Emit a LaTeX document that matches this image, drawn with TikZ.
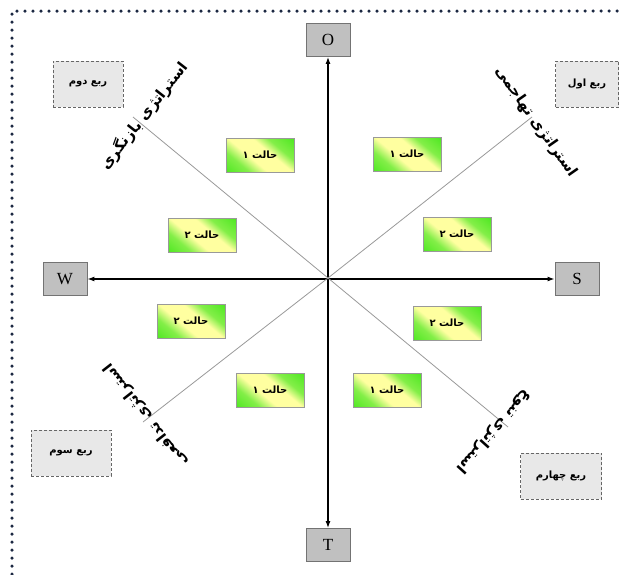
\documentclass[tikz,border=0pt]{standalone}
\usepackage{fontspec}
\newfontfamily\arabicfont[Script=Arabic]{DejaVu Sans}
\newfontfamily\timesfont{Liberation Serif}
\TeXXeTstate=1
\usetikzlibrary{arrows.meta}
\definecolor{axisgray}{RGB}{192,192,192}
\definecolor{framedot}{RGB}{28,40,66}
\definecolor{stgreen}{RGB}{30,225,0}
\definecolor{stpale}{RGB}{255,255,160}
\pgfdeclareverticalshading{stateshade}{100bp}{color(0bp)=(stgreen); color(30bp)=(stgreen!55!stpale); color(42bp)=(stpale); color(58bp)=(stpale); color(68bp)=(stgreen!55!stpale); color(100bp)=(stgreen)}
\begin{document}
\begin{tikzpicture}[x=1pt, y=-1pt, >={Latex[length=7pt,width=5pt]},
		axisbox/.style={draw=black!55, fill=axisgray, line width=0.8pt, minimum width=44pt, minimum height=33pt, inner sep=0pt, font=\timesfont\fontsize{17}{17}\selectfont},
		quarter/.style={draw=black!60, dash pattern=on 3pt off 2pt, fill=black!9, line width=0.9pt, minimum width=70pt, minimum height=46pt, font=\arabicfont\bfseries\fontsize{10}{10}\selectfont},
		state/.style={draw=black!40, line width=0.7pt, minimum width=68pt, minimum height=34pt, shading=stateshade, shading angle=-40, font=\arabicfont\bfseries\fontsize{10}{10}\selectfont},
		strat/.style={font=\arabicfont\bfseries\fontsize{15}{15}\selectfont, inner sep=1pt}]
		\useasboundingbox (0,0) rectangle (619,574);
		\draw[framedot, line width=3.5pt, line cap=round, dash pattern=on 0pt off 8pt] (12,574) -- (12,11) -- (619,11);
		% axes
		\coordinate (c) at (328,278);
		\node[axisbox] (O) at (328,40) {O};
		\node[axisbox] (T) at (328,545) {T};
		\node[axisbox] (W) at (65,279) {W};
		\node[axisbox] (S) at (577,279) {S};
		\draw[line width=1.5pt, <->] (O) -- (T);
		\draw[line width=1.5pt, <->] (W) -- (S);
		% diagonals
		\coordinate (e1) at (532,117);
		\coordinate (e2) at (133,117);
		\coordinate (e3) at (143,422);
		\coordinate (e4) at (508,427);
		\foreach \e in {e1,e2,e3,e4} \draw[black!40, line width=0.8pt] (c) -- (\e);
		% quarters
		\node[quarter, minimum width=63pt] (q1) at (587,84) {\beginR ربع اول\endR};
		\node[quarter] (q2) at (88,84) {\beginR ربع دوم\endR};
		\node[quarter, minimum width=80pt] (q3) at (71,453) {\beginR ربع سوم\endR};
		\node[quarter, minimum width=81pt] (q4) at (561,476) {\beginR ربع چهارم\endR};
		\node[strat, rotate=-55] (t1) at (536,122) {\beginR استراتژی تهاجمی\endR};
		\node[strat, rotate=52] (t2) at (144,116) {\beginR استراتژی بازنگری\endR};
		\node[strat, rotate=128] (t3) at (146,415) {\beginR استراتژی تدافعی\endR};
		\node[strat, rotate=-132] (t4) at (494,432) {\beginR استراتژی تنوع\endR};
		% states
		\foreach \n/\x/\y/\k in {s1/260/155/۱, s2/407/154/۱, s3/202/235/۲, s4/457/234/۲, s5/191/321/۲, s6/447/323/۲, s7/270/390/۱, s8/387/390/۱}
			\node[state] (\n) at (\x,\y) {\beginR حالت \k\endR};
	\end{tikzpicture}
\end{document}
